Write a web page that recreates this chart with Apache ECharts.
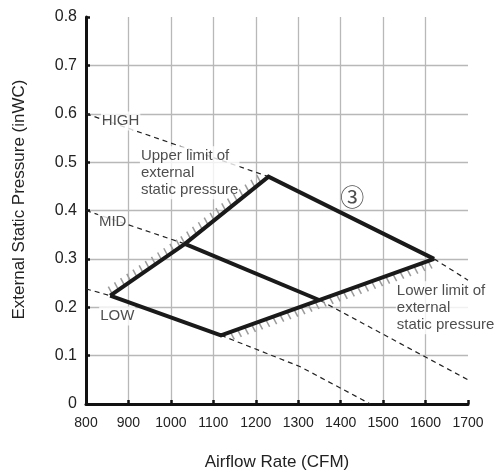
<!DOCTYPE html>
<html>
<head>
<meta charset="utf-8">
<script src="https://cdn.jsdelivr.net/npm/echarts@6/dist/echarts.min.js"></script>
<style>
  html, body { margin: 0; padding: 0; background: #fff; }
  #chart { width: 496px; height: 476px; }
</style>
</head>
<body>
<div id="chart"></div>
<script>
// axis ticks
var xTicks = [800, 900, 1000, 1100, 1200, 1300, 1400, 1500, 1600, 1700];
var yTicks = [0, 0.1, 0.2, 0.3, 0.4, 0.5, 0.6, 0.7, 0.8];

// fan curve (thick) - [airflow CFM, pressure inWC]
var highCurve = [[857, 0.224], [1033, 0.331], [1230, 0.470], [1620, 0.300]];
var lowCurve = [[857, 0.224], [1118, 0.142], [1620, 0.300]];
var midCurve = [[1033, 0.331], [1352, 0.214]];

// system curves (dashed)
var sysHigh = [[800, 0.600], [1230, 0.470]];
var sysMid = [[800, 0.400], [1033, 0.331]];
var sysLow = [[800, 0.238], [857, 0.224]];
var sysRight = [[1620, 0.300], [1700, 0.256]];
var sysN = [[1352, 0.214], [1600, 0.097], [1700, 0.050]];
var sysB = [[1118, 0.142], [1305, 0.077], [1470, 0]];

// limit hatching: x1, y1, x2, y2, side
var upperHatch = [[862, 0.227, 1033, 0.331, -1], [1033, 0.331, 1218, 0.462, -1]];
var lowerHatch = [[1140, 0.149, 1610, 0.297, 1]];

// notes
var noteNames = ['HIGH', 'MID', 'LOW', 'Upper limit of\nexternal\nstatic pressure', 'Lower limit of\nexternal\nstatic pressure'];
var noteX = [835, 828, 831, 927, 1530];
var noteY = [0.585, 0.377, 0.182, 0.478, 0.199];
var circleLabel = '③';
var circlePos = [1427, 0.428];

var FONT = '"Liberation Sans", Arial, sans-serif';

var chart = echarts.init(document.getElementById('chart'));

function dashed(data) {
  return {
    type: 'line',
    data: data,
    symbol: 'none',
    z: 2,
    silent: true,
    lineStyle: { color: '#222', width: 1.2, type: [5, 4] }
  };
}

function thick(data) {
  return {
    type: 'line',
    data: data,
    symbol: 'none',
    z: 6,
    silent: true,
    lineStyle: { color: '#1a1a1a', width: 4, join: 'miter', cap: 'butt' }
  };
}

function hatch(data) {
  return {
    type: 'custom',
    data: data,
    z: 5,
    silent: true,
    encode: { x: [0, 2], y: [1, 3] },
    renderItem: function (params, api) {
      var p1 = api.coord([api.value(0), api.value(1)]);
      var p2 = api.coord([api.value(2), api.value(3)]);
      var side = api.value(4);
      var dx = p2[0] - p1[0], dy = p2[1] - p1[1];
      var len = Math.sqrt(dx * dx + dy * dy);
      var step = 7.5;
      var n = Math.floor(len / step);
      var children = [];
      for (var i = 0; i <= n; i++) {
        var t = i * step / len;
        var x = p1[0] + dx * t, y = p1[1] + dy * t;
        children.push({
          type: 'line',
          shape: { x1: x, y1: y, x2: x + side * 4, y2: y + side * 7.5 },
          style: { stroke: '#9a9a9a', lineWidth: 1.5 }
        });
      }
      return { type: 'group', children: children };
    }
  };
}

var notes = noteNames.map(function (n, i) {
  return { name: n, value: [noteX[i], noteY[i]] };
});

chart.setOption({
  animation: false,
  backgroundColor: '#fff',
  grid: { left: 86, right: 28, top: 17, bottom: 72 },
  xAxis: {
    type: 'value',
    min: xTicks[0],
    max: xTicks[xTicks.length - 1],
    interval: 100,
    name: 'Airflow Rate (CFM)',
    nameLocation: 'middle',
    nameGap: 50,
    nameTextStyle: { fontFamily: FONT, fontSize: 17, color: '#222' },
    axisLine: { lineStyle: { color: '#111', width: 3 } },
    axisTick: { inside: true, length: 4, lineStyle: { color: '#111', width: 2.5 } },
    axisLabel: { margin: 12, fontFamily: FONT, fontSize: 14, color: '#222', formatter: function (v) { return String(v); } },
    splitLine: { show: true, showMinLine: false, showMaxLine: false, lineStyle: { color: '#b8b8b8', width: 1.3 } }
  },
  yAxis: {
    type: 'value',
    min: yTicks[0],
    max: yTicks[yTicks.length - 1],
    interval: 0.1,
    name: 'External Static Pressure (inWC)',
    nameLocation: 'middle',
    nameGap: 58,
    nameTextStyle: { fontFamily: FONT, fontSize: 17, color: '#222', padding: [0, 0, 0, 22] },
    axisLine: { show: true, lineStyle: { color: '#111', width: 3 } },
    axisTick: { show: true, inside: true, length: 4, lineStyle: { color: '#111', width: 2.5 } },
    axisLabel: { margin: 9, fontFamily: FONT, fontSize: 16, color: '#222' },
    splitLine: { show: true, showMinLine: false, showMaxLine: false, lineStyle: { color: '#b8b8b8', width: 1.3 } }
  },
  series: [
    dashed(sysHigh),
    dashed(sysMid),
    dashed(sysLow),
    dashed(sysRight),
    dashed(sysN),
    dashed(sysB),
    {
      type: 'scatter',
      data: notes,
      symbolSize: 0,
      z: 4,
      silent: true,
      label: {
        show: true,
        position: 'right',
        distance: 0,
        formatter: '{b}',
        fontFamily: FONT,
        fontSize: 15,
        lineHeight: 17,
        color: '#222',
        align: 'left',
        backgroundColor: '#fff',
        padding: [1, 1, 1, 1]
      }
    },
    {
      type: 'scatter',
      data: [{ name: circleLabel, value: circlePos }],
      symbolSize: 0,
      z: 4,
      silent: true,
      label: {
        show: true,
        position: 'inside',
        formatter: '{b}',
        fontFamily: '"Noto Sans CJK SC", "DejaVu Sans", sans-serif',
        fontSize: 24,
        color: '#222'
      }
    },
    hatch(upperHatch),
    hatch(lowerHatch),
    thick(highCurve),
    thick(lowCurve),
    thick(midCurve)
  ]
});
</script>
</body>
</html>
